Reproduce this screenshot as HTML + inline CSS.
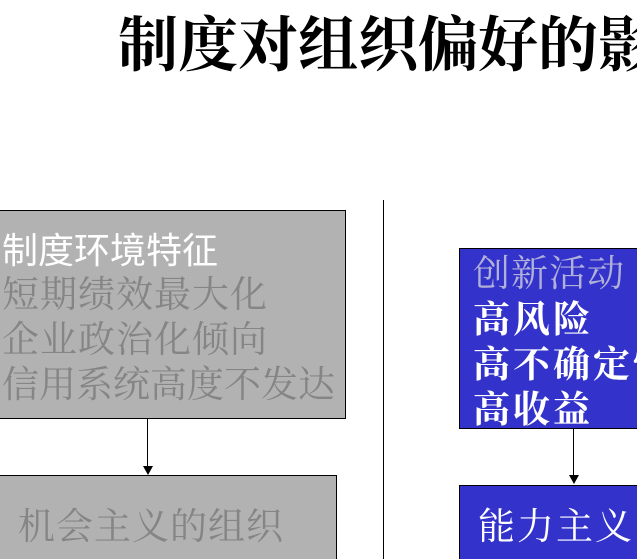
<!DOCTYPE html>
<html><head><meta charset="utf-8"><style>
html,body{margin:0;width:637px;height:559px;overflow:hidden;background:#fff}
#w{position:relative;width:637px;height:559px;overflow:hidden;font-family:"Liberation Serif","Noto Serif CJK SC",serif}
#w div{position:absolute;box-sizing:border-box;white-space:nowrap}
.t{line-height:45px;font-size:37px}
</style></head><body><div id="w">
<div style="left:118px;top:10px;font-size:60px;font-weight:bold;line-height:72px;color:#000">制度对组织偏好的影响</div>
<div style="left:383px;top:200px;width:1px;height:359px;background:#000"></div>

<div style="left:-2px;top:210px;width:348px;height:209px;background:#B2B2B2;border:1px solid #000"></div>
<div class="t" style="left:2px;top:228px;color:#fff;font-family:'Liberation Sans','Noto Sans CJK SC',sans-serif;font-size:36px">制度环境特征</div>
<div class="t" style="left:2px;top:273px;color:#858585;letter-spacing:1px">短期绩效最大化</div>
<div class="t" style="left:2px;top:318px;color:#858585;letter-spacing:1px">企业政治化倾向</div>
<div class="t" style="left:2px;top:363px;color:#858585;font-size:37px;letter-spacing:0px">信用系统高度不发达</div>
<div style="left:147px;top:419px;width:1px;height:48px;background:#000"></div>
<div style="left:143px;top:466px;width:0;height:0;border-left:5px solid transparent;border-right:5px solid transparent;border-top:9px solid #000"></div>
<div style="left:-2px;top:475px;width:339px;height:90px;background:#B2B2B2;border:1px solid #000"></div>
<div class="t" style="left:18px;top:505px;color:#858585;font-size:37px;letter-spacing:1px">机会主义的组织</div>

<div style="left:459px;top:248px;width:190px;height:181px;background:#3333CC;border:1px solid #000"></div>
<div class="t" style="left:473px;top:252px;color:#B0B0D8;font-size:37px;letter-spacing:1px">创新活动</div>
<div class="t" style="left:473px;top:298px;color:#fff;font-weight:bold;letter-spacing:3px">高风险</div>
<div class="t" style="left:473px;top:343px;color:#fff;font-weight:bold;letter-spacing:3px">高不确定性</div>
<div class="t" style="left:473px;top:388px;color:#fff;font-weight:bold;letter-spacing:3px">高收益</div>
<div style="left:573px;top:429px;width:1px;height:47px;background:#000"></div>
<div style="left:569px;top:475px;width:0;height:0;border-left:5px solid transparent;border-right:5px solid transparent;border-top:9px solid #000"></div>
<div style="left:459px;top:485px;width:190px;height:80px;background:#3333CC;border:1px solid #000"></div>
<div class="t" style="left:478px;top:505px;color:#fff;font-size:37px;letter-spacing:2px">能力主义的组织</div>
</div></body></html>
